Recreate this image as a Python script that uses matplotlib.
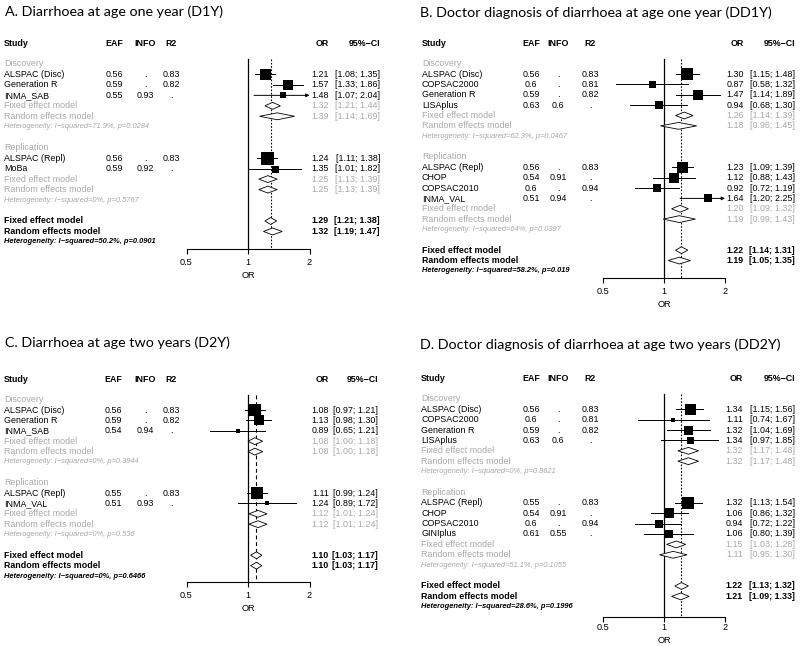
import matplotlib
matplotlib.use("Agg")
import matplotlib.pyplot as plt
import matplotlib.transforms as mtransforms
from matplotlib.ticker import NullLocator

# ---- panel A: diarrhoea at one year (D1Y)
A_TITLE = "A. Diarrhoea at age one year (D1Y)"
A_STUDY = ["ALSPAC (Disc)", "Generation R", "INMA_SAB", "ALSPAC (Repl)", "MoBa"]
A_NDISC = 3
A_EAF = ["0.56", "0.59", "0.55", "0.56", "0.59"]
A_INFO = [".", ".", "0.93", ".", "0.92"]
A_R2 = ["0.83", "0.82", ".", "0.83", "."]
A_OR = [1.21, 1.57, 1.48, 1.24, 1.35]
A_LO = [1.08, 1.33, 1.07, 1.11, 1.01]
A_HI = [1.35, 1.86, 2.04, 1.38, 1.82]
A_WEIGHT = [121, 90, 36, 169, 49]
# pooled: disc fixed, disc random, repl fixed, repl random, all fixed, all random
A_POOL_OR = [1.32, 1.39, 1.25, 1.25, 1.29, 1.32]
A_POOL_LO = [1.21, 1.14, 1.13, 1.13, 1.21, 1.19]
A_POOL_HI = [1.44, 1.69, 1.39, 1.39, 1.38, 1.47]
A_HET = ["I\u2212squared=71.9%, p=0.0284", "I\u2212squared=0%, p=0.5767",
         "I\u2212squared=50.2%, p=0.0901"]

# ---- panel B: doctor diagnosis at one year (DD1Y)
B_TITLE = "B. Doctor diagnosis of diarrhoea at age one year (DD1Y)"
B_STUDY = ["ALSPAC (Disc)", "COPSAC2000", "Generation R", "LISAplus",
           "ALSPAC (Repl)", "CHOP", "COPSAC2010", "INMA_VAL"]
B_NDISC = 4
B_EAF = ["0.56", "0.6", "0.59", "0.63", "0.56", "0.54", "0.6", "0.51"]
B_INFO = [".", ".", ".", "0.6", ".", "0.91", ".", "0.94"]
B_R2 = ["0.83", "0.81", "0.82", ".", "0.83", ".", "0.94", "."]
B_OR = [1.30, 0.87, 1.47, 0.94, 1.23, 1.12, 0.92, 1.64]
B_LO = [1.15, 0.58, 1.14, 0.68, 1.09, 0.88, 0.72, 1.20]
B_HI = [1.48, 1.32, 1.89, 1.30, 1.39, 1.43, 1.19, 2.25]
B_WEIGHT = [144, 49, 90, 64, 121, 90, 72, 64]
B_POOL_OR = [1.26, 1.18, 1.20, 1.19, 1.22, 1.19]
B_POOL_LO = [1.14, 0.96, 1.09, 0.99, 1.14, 1.05]
B_POOL_HI = [1.39, 1.45, 1.32, 1.43, 1.31, 1.35]
B_HET = ["I\u2212squared=62.3%, p=0.0467", "I\u2212squared=64%, p=0.0397",
         "I\u2212squared=58.2%, p=0.019"]

# ---- panel C: diarrhoea at two years (D2Y)
C_TITLE = "C. Diarrhoea at age two years (D2Y)"
C_STUDY = ["ALSPAC (Disc)", "Generation R", "INMA_SAB", "ALSPAC (Repl)", "INMA_VAL"]
C_NDISC = 3
C_EAF = ["0.56", "0.59", "0.54", "0.55", "0.51"]
C_INFO = [".", ".", "0.94", ".", "0.93"]
C_R2 = ["0.83", "0.82", ".", "0.83", "."]
C_OR = [1.08, 1.13, 0.89, 1.11, 1.24]
C_LO = [0.97, 0.98, 0.65, 0.99, 0.89]
C_HI = [1.21, 1.30, 1.21, 1.24, 1.72]
C_WEIGHT = [156, 90, 16, 156, 16]
C_POOL_OR = [1.08, 1.08, 1.12, 1.12, 1.10, 1.10]
C_POOL_LO = [1.00, 1.00, 1.01, 1.01, 1.03, 1.03]
C_POOL_HI = [1.18, 1.18, 1.24, 1.24, 1.17, 1.17]
C_HET = ["I\u2212squared=0%, p=0.3944", "I\u2212squared=0%, p=0.536",
         "I\u2212squared=0%, p=0.6466"]

# ---- panel D: doctor diagnosis at two years (DD2Y)
D_TITLE = "D. Doctor diagnosis of diarrhoea at age two years (DD2Y)"
D_STUDY = ["ALSPAC (Disc)", "COPSAC2000", "Generation R", "LISAplus",
           "ALSPAC (Repl)", "CHOP", "COPSAC2010", "GINIplus"]
D_NDISC = 4
D_EAF = ["0.56", "0.6", "0.59", "0.63", "0.55", "0.54", "0.6", "0.61"]
D_INFO = [".", ".", ".", "0.6", ".", "0.91", ".", "0.55"]
D_R2 = ["0.83", "0.81", "0.82", ".", "0.83", ".", "0.94", "."]
D_OR = [1.34, 1.11, 1.32, 1.34, 1.32, 1.06, 0.94, 1.06]
D_LO = [1.15, 0.74, 1.04, 0.97, 1.13, 0.86, 0.72, 0.80]
D_HI = [1.56, 1.67, 1.69, 1.85, 1.54, 1.32, 1.22, 1.39]
D_WEIGHT = [121, 25, 81, 49, 132, 90, 72, 72]
D_POOL_OR = [1.32, 1.32, 1.15, 1.11, 1.22, 1.21]
D_POOL_LO = [1.17, 1.17, 1.03, 0.95, 1.13, 1.09]
D_POOL_HI = [1.48, 1.48, 1.28, 1.30, 1.32, 1.33]
D_HET = ["I\u2212squared=0%, p=0.8621", "I\u2212squared=51.1%, p=0.1055",
         "I\u2212squared=28.6%, p=0.1996"]

W, H = 800, 646
GRAY = "#a8a8a8"
FONT = "Liberation Sans"
FS = 6.4
HET_FS = 5.4


def fx(px):
    return px / W


def forest(fig, d, lay):
    c, k = lay["c"], lay["k"]
    y0, dy, ya = lay["y0"], lay["dy"], lay["axis_y"]
    left, right = c - 1.6 * k, c + 1.6 * k
    top = y0 - 8
    ax = fig.add_axes([fx(left), 1 - ya / H, (right - left) / W, (ya - top) / H])
    ax.set_xscale("log")
    ax.set_xlim(2 ** -1.6, 2 ** 1.6)
    ybot = (ya - y0) / dy
    ax.set_ylim(ybot, (top - y0) / dy)
    ax.set_yticks([])
    for s in ["left", "top", "right"]:
        ax.spines[s].set_visible(False)
    ax.spines["bottom"].set_bounds(0.5, 2)
    ax.spines["bottom"].set_linewidth(0.8)
    ax.set_xticks([0.5, 1, 2])
    ax.set_xticklabels(["0.5", "1", "2"], fontfamily=FONT, fontsize=6.6)
    ax.xaxis.set_minor_locator(NullLocator())
    ax.tick_params(axis="x", length=3.6, width=0.8, pad=lay["pad"])
    ax.set_xlabel("OR", fontfamily=FONT, fontsize=6.6, labelpad=lay["lpad"])
    ax.patch.set_alpha(0)

    tr = mtransforms.blended_transform_factory(fig.transFigure, ax.transData)
    cols = lay["cols"]

    def txt(x, row, s, color="black", ha="left", weight="normal",
            style="normal", size=FS):
        ax.text(fx(x), row, s, transform=tr, ha=ha, va="center", color=color,
                fontfamily=FONT, fontsize=size, fontweight=weight, fontstyle=style)

    # header
    txt(cols["study"], 0, "Study", weight="bold")
    txt(cols["eaf"], 0, "EAF", ha="center", weight="bold")
    txt(cols["info"], 0, "INFO", ha="center", weight="bold")
    txt(cols["r2"], 0, "R2", ha="center", weight="bold")
    txt(cols["or"], 0, "OR", ha="right", weight="bold")
    txt(cols["ci"], 0, "95%\u2212CI", ha="right", weight="bold")

    n = len(d["study"])
    nd = d["ndisc"]
    groups = [("Discovery", list(range(nd)), 2),
              ("Replication", list(range(nd, n)), nd + 7)]

    def diamond(row, o, lo, hi):
        h = 0.33
        ax.fill([lo, o, hi, o, lo], [row, row - h, row, row + h, row],
                facecolor="white", edgecolor="black", lw=0.6, zorder=3)

    def pooled_row(row, label, j, color, weight):
        txt(cols["study"], row, label, color=color, weight=weight)
        o, lo, hi = d["por"][j], d["plo"][j], d["phi"][j]
        diamond(row, o, lo, hi)
        txt(cols["or"], row, "%.2f" % o, color=color, ha="right", weight=weight)
        txt(cols["ci"], row, "[%.2f; %.2f]" % (lo, hi), color=color, ha="right",
            weight=weight)

    for gi, (gname, idx, r0) in enumerate(groups):
        txt(cols["study"], r0, gname, color=GRAY)
        for m, i in enumerate(idx):
            row = r0 + 1 + m
            txt(cols["study"], row, d["study"][i])
            txt(cols["eaf"], row, d["eaf"][i], ha="center")
            txt(cols["info"], row, d["info"][i], ha="center")
            txt(cols["r2"], row, d["r2"][i], ha="center")
            txt(cols["or"], row, "%.2f" % d["or"][i], ha="right")
            txt(cols["ci"], row, "[%.2f; %.2f]" % (d["lo"][i], d["hi"][i]), ha="right")
            lo, hi = d["lo"][i], d["hi"][i]
            if hi > 2:
                ax.annotate("", xy=(2, row), xytext=(lo, row),
                            arrowprops=dict(arrowstyle="-|>", lw=0.7, color="black",
                                            mutation_scale=5, shrinkA=0, shrinkB=0))
            else:
                ax.plot([lo, hi], [row, row], color="black", lw=0.7, zorder=2)
            ax.plot(d["or"][i], row, marker="s", color="black",
                    markersize=d["w"][i] ** 0.5 * 0.72, mew=0, zorder=4)
        rf = r0 + 1 + len(idx)
        pooled_row(rf, "Fixed effect model", 2 * gi, GRAY, "normal")
        pooled_row(rf + 1, "Random effects model", 2 * gi + 1, GRAY, "normal")
        txt(cols["study"], rf + 2, "Heterogeneity: " + d["het"][gi], color=GRAY,
            style="italic", size=HET_FS)

    ro = nd + 7 + 1 + (n - nd) + 4
    pooled_row(ro, "Fixed effect model", 4, "black", "bold")
    pooled_row(ro + 1, "Random effects model", 5, "black", "bold")
    txt(cols["study"], ro + 2, "Heterogeneity: " + d["het"][2], style="italic",
        weight="bold", size=HET_FS)

    ax.plot([1, 1], [1.5, ybot], color="black", lw=0.9, zorder=1, clip_on=False)
    ax.plot([d["por"][4]] * 2, [1.5, ybot], color="black", lw=0.8,
            ls=lay["dash"], zorder=1, clip_on=False)

    fig.text(fx(lay["tx"]), 1 - lay["ty"] / H, d["title"], ha="left", va="center",
             fontfamily="Lato", fontsize=10.3)


def pack(title, study, ndisc, eaf, info, r2, o, lo, hi, w, por, plo, phi, het):
    return dict(title=title, study=study, ndisc=ndisc, eaf=eaf, info=info, r2=r2,
                or_=o, lo=lo, hi=hi, w=w, por=por, plo=plo, phi=phi, het=het)


def main():
    fig = plt.figure(figsize=(8, 6.46), dpi=100)
    panels = [
        (pack(A_TITLE, A_STUDY, A_NDISC, A_EAF, A_INFO, A_R2, A_OR, A_LO, A_HI,
              A_WEIGHT, A_POOL_OR, A_POOL_LO, A_POOL_HI, A_HET),
         dict(c=248, k=61.5, y0=43, dy=10.47, axis_y=249, pad=3.0, lpad=3.0,
              tx=5, ty=12, dash=(0, (1.5, 1.5)),
              cols=dict(study=4, eaf=114, info=145.5, r2=171, or_=329, ci=380))),
        (pack(B_TITLE, B_STUDY, B_NDISC, B_EAF, B_INFO, B_R2, B_OR, B_LO, B_HI,
              B_WEIGHT, B_POOL_OR, B_POOL_LO, B_POOL_HI, B_HET),
         dict(c=664, k=61, y0=43, dy=10.36, axis_y=278, pad=3.0, lpad=3.0,
              tx=420, ty=13, dash=(0, (1.5, 1.5)),
              cols=dict(study=422, eaf=531, info=558, r2=590, or_=744, ci=795))),
        (pack(C_TITLE, C_STUDY, C_NDISC, C_EAF, C_INFO, C_R2, C_OR, C_LO, C_HI,
              C_WEIGHT, C_POOL_OR, C_POOL_LO, C_POOL_HI, C_HET),
         dict(c=248, k=61.5, y0=379, dy=10.37, axis_y=582, pad=3.0, lpad=3.0,
              tx=5, ty=343, dash=(0, (3.5, 2.5)),
              cols=dict(study=4, eaf=113, info=145, r2=171, or_=329, ci=378))),
        (pack(D_TITLE, D_STUDY, D_NDISC, D_EAF, D_INFO, D_R2, D_OR, D_LO, D_HI,
              D_WEIGHT, D_POOL_OR, D_POOL_LO, D_POOL_HI, D_HET),
         dict(c=664, k=61, y0=378, dy=10.4, axis_y=617, pad=1.0, lpad=2.5,
              tx=420, ty=345, dash=(0, (1.5, 1.5)),
              cols=dict(study=421, eaf=531, info=558, r2=590, or_=743, ci=795))),
    ]
    for d, lay in panels:
        d["or"] = d.pop("or_")
        lay["cols"]["or"] = lay["cols"].pop("or_")
        forest(fig, d, lay)
    fig.savefig("out.png", dpi=100)


if __name__ == "__main__":
    main()
